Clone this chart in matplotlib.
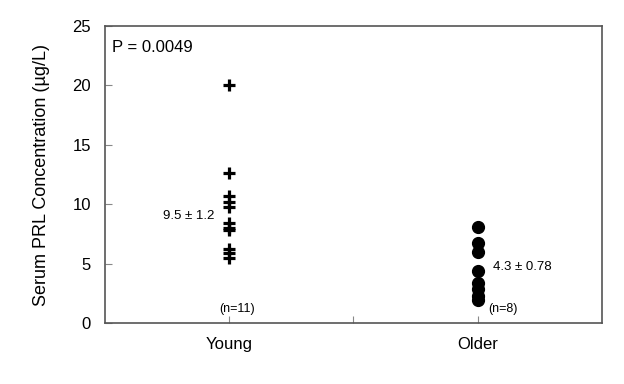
"""
    Serum PRL concentration, young vs older
"""

import matplotlib.pyplot as plt

groups = ['Young', 'Older']
young = [20.0, 12.6, 10.7, 10.2, 9.8, 8.4, 8.0, 7.8, 6.2, 5.9, 5.5]
older = [8.1, 6.7, 6.0, 4.4, 3.4, 2.9, 2.3, 1.9]
stats = ['9.5 ± 1.2', '4.3 ± 0.78']
counts = ['(n=11)', '(n=8)']

plt.rcParams['font.family'] = ['Liberation Sans', 'DejaVu Sans']

fig = plt.figure(figsize=(6.24, 3.84), dpi=100)
ax = fig.add_axes([0.168, 0.159, 0.797, 0.773])

# data points
ax.plot([1] * len(young), young, 'k+', markersize=8, markeredgewidth=2.3)
ax.plot([2] * len(older), older, 'ko', markersize=8.5)

# annotations
ax.text(0.53, 22.8, 'P = 0.0049', fontsize=12)
ax.text(0.94, 9.0, stats[0], fontsize=9.5, ha='right', va='center')
ax.text(2.06, 4.7, stats[1], fontsize=9.5, ha='left', va='center')
ax.text(1.03, 1.2, counts[0], fontsize=9, ha='center', va='center')
ax.text(2.1, 1.2, counts[1], fontsize=9, ha='center', va='center')

ax.set_xlim(0.5, 2.5)
ax.set_ylim(0, 25)
ax.set_xticks([1, 1.5, 2])
ax.set_xticklabels([groups[0], '', groups[1]], fontsize=14)
ax.set_yticks([0, 5, 10, 15, 20, 25])
ax.tick_params(axis='both', direction='in', length=5, color='#888888', labelsize=12)
ax.tick_params(axis='x', pad=10)
ax.tick_params(axis='y', pad=10)
ax.set_ylabel('Serum PRL Concentration (µg/L)', fontsize=13, labelpad=16)

for s in ax.spines.values():
    s.set_color('#555555')
    s.set_linewidth(1.2)

fig.savefig('out.png', dpi=100)
